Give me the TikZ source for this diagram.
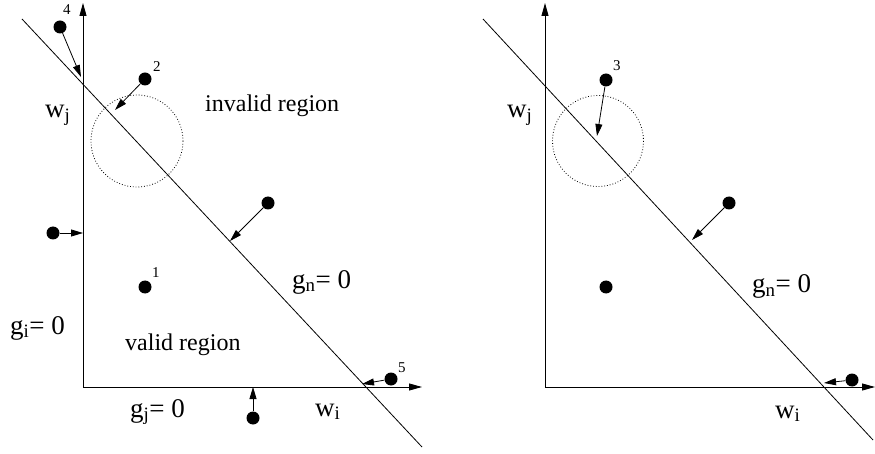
\documentclass[tikz,border=0pt]{standalone}
\usepackage{fontspec}
\setmainfont{Liberation Serif}
\usetikzlibrary{arrows.meta}
\tikzset{
  dot/.style={circle,fill=black,inner sep=0pt,minimum size=13pt},
  arr/.style={-{Triangle[length=12pt,width=7pt]},line width=0.8pt},
  axis/.style={-{Triangle[length=13pt,width=7pt]},line width=0.9pt},
  bigtxt/.style={anchor=base west,inner sep=0pt,font=\fontsize{27}{30}\selectfont},
  regtxt/.style={anchor=base west,inner sep=0pt,font=\fontsize{24}{28}\selectfont},
  numtxt/.style={anchor=base west,inner sep=0pt,font=\fontsize{15}{17}\selectfont},
  circ/.style={dotted,line width=0.8pt},
  lin/.style={line width=0.8pt}
}
\begin{document}
\begin{tikzpicture}[x=1pt,y=-1pt]
\useasboundingbox (0,0) rectangle (875,454);
% ---------- left panel ----------
\coordinate (oL) at (83,387);
\coordinate (yL) at (83,3);
\coordinate (xL) at (422,387);
\draw[axis] (oL) -- (yL);
\draw[axis] (oL) -- (xL);
\coordinate (lA) at (22,19);
\coordinate (lB) at (422,447);
\draw[lin] (lA) -- (lB);
\draw[circ] (137,141) circle[radius=46];
% dots
\node[dot] (d4) at (60,27) {};
\node[dot] (d2) at (145,79) {};
\node[dot] (dl) at (53,233) {};
\node[dot] (dr) at (268,203) {};
\node[dot] (d1) at (145,287) {};
\node[dot] (db) at (253,418) {};
\node[dot] (d5) at (391,379) {};
\coordinate (t4) at (81,77);
\coordinate (t2) at (115,110);
\coordinate (tl) at (83,233);
\coordinate (tr) at (230,241);
\coordinate (tb) at (253,387);
\coordinate (t5) at (362,384);
\draw[arr] (d4) -- (t4);
\draw[arr] (d2) -- (t2);
\draw[arr] (dl) -- (tl);
\draw[arr] (dr) -- (tr);
\draw[arr] (db) -- (tb);
\draw[arr] (d5) -- (t5);
% labels
\node[numtxt] (n4) at (63,15) {4};
\node[numtxt] (n2) at (153,72) {2};
\node[numtxt] (n1) at (152,277) {1};
\node[numtxt] (n5) at (398,372) {5};
\node[bigtxt] (wjL) at (45,118) {w\textsubscript{j}};
\node[regtxt] (inv) at (205,112) {invalid region};
\node[regtxt] (val) at (125,350) {valid region};
\node[bigtxt] (gi) at (10,334) {g\textsubscript{i}= 0};
\node[bigtxt] (gj) at (130,417) {g\textsubscript{j}= 0};
\node[bigtxt] (wiL) at (315,416) {w\textsubscript{i}};
\node[bigtxt] (gnL) at (292,288) {g\textsubscript{n}= 0};
% ---------- right panel ----------
\coordinate (oR) at (545,387);
\coordinate (yR) at (545,3);
\coordinate (xR) at (875,387);
\draw[axis] (oR) -- (yR);
\draw[axis] (oR) -- (xR);
\coordinate (rA) at (483,19);
\coordinate (rB) at (873,440);
\draw[lin] (rA) -- (rB);
\draw[circ] (598,141) circle[radius=45.5];
\node[dot] (e3) at (606,80) {};
\node[dot] (er) at (729,203) {};
\node[dot] (em) at (606,287) {};
\node[dot] (ex) at (852,380) {};
\coordinate (s3) at (597,136);
\coordinate (sr) at (692,240);
\coordinate (sx) at (824,383);
\draw[arr] (e3) -- (s3);
\draw[arr] (er) -- (sr);
\draw[arr] (ex) -- (sx);
\node[numtxt] (n3) at (613,71) {3};
\node[bigtxt] (wjR) at (507,118) {w\textsubscript{j}};
\node[bigtxt] (gnR) at (752,293) {g\textsubscript{n}= 0};
\node[bigtxt] (wiR) at (775,418) {w\textsubscript{i}};
\end{tikzpicture}
\end{document}
